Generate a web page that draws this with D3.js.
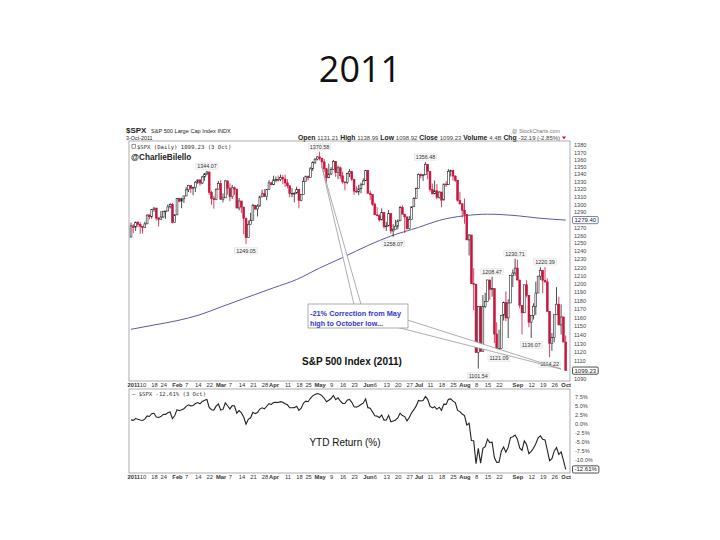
<!DOCTYPE html>
<html lang="en">
<head>
<meta charset="UTF-8">
<title>2011</title>
<script src="https://cdnjs.cloudflare.com/ajax/libs/d3/7.8.5/d3.min.js"></script>
<style>
    body { margin: 0; background: #fff; }
    svg text { font-family: "Liberation Sans", Arial, sans-serif; }
    .mono { font-family: "DejaVu Sans Mono", "Liberation Mono", monospace !important; }
</style>
</head>
<body>
<svg id="slide" width="720" height="540"></svg>
<script>
// trading days, 3 Jan - 3 Oct 2011
var dates = [
    "Jan 3","Jan 4","Jan 5","Jan 6","Jan 7","Jan 10","Jan 11","Jan 12","Jan 13","Jan 14","Jan 18","Jan 19","Jan 20","Jan 21","Jan 24","Jan 25","Jan 26","Jan 27","Jan 28","Jan 31",
    "Feb 1","Feb 2","Feb 3","Feb 4","Feb 7","Feb 8","Feb 9","Feb 10","Feb 11","Feb 14","Feb 15","Feb 16","Feb 17","Feb 18","Feb 22","Feb 23","Feb 24","Feb 25","Feb 28",
    "Mar 1","Mar 2","Mar 3","Mar 4","Mar 7","Mar 8","Mar 9","Mar 10","Mar 11","Mar 14","Mar 15","Mar 16","Mar 17","Mar 18","Mar 21","Mar 22","Mar 23","Mar 24","Mar 25","Mar 28","Mar 29","Mar 30","Mar 31",
    "Apr 1","Apr 4","Apr 5","Apr 6","Apr 7","Apr 8","Apr 11","Apr 12","Apr 13","Apr 14","Apr 15","Apr 18","Apr 19","Apr 20","Apr 21","Apr 25","Apr 26","Apr 27","Apr 28","Apr 29",
    "May 2","May 3","May 4","May 5","May 6","May 9","May 10","May 11","May 12","May 13","May 16","May 17","May 18","May 19","May 20","May 23","May 24","May 25","May 26","May 27","May 31",
    "Jun 1","Jun 2","Jun 3","Jun 6","Jun 7","Jun 8","Jun 9","Jun 10","Jun 13","Jun 14","Jun 15","Jun 16","Jun 17","Jun 20","Jun 21","Jun 22","Jun 23","Jun 24","Jun 27","Jun 28","Jun 29","Jun 30",
    "Jul 1","Jul 5","Jul 6","Jul 7","Jul 8","Jul 11","Jul 12","Jul 13","Jul 14","Jul 15","Jul 18","Jul 19","Jul 20","Jul 21","Jul 22","Jul 25","Jul 26","Jul 27","Jul 28","Jul 29",
    "Aug 1","Aug 2","Aug 3","Aug 4","Aug 5","Aug 8","Aug 9","Aug 10","Aug 11","Aug 12","Aug 15","Aug 16","Aug 17","Aug 18","Aug 19","Aug 22","Aug 23","Aug 24","Aug 25","Aug 26","Aug 29","Aug 30","Aug 31",
    "Sep 1","Sep 2","Sep 6","Sep 7","Sep 8","Sep 9","Sep 12","Sep 13","Sep 14","Sep 15","Sep 16","Sep 19","Sep 20","Sep 21","Sep 22","Sep 23","Sep 26","Sep 27","Sep 28","Sep 29","Sep 30",
    "Oct 3"
];

var closes = [
    1271.87,1270.20,1276.56,1273.85,1271.50,1269.75,1274.48,1285.96,1283.76,1293.24,1295.02,1281.92,1280.26,1283.35,1290.84,1291.18,1296.63,1299.54,1276.34,1286.12,
    1307.59,1304.03,1307.10,1310.87,1319.05,1324.57,1320.88,1321.87,1329.15,1332.32,1328.01,1336.32,1340.43,1343.01,1315.44,1307.40,1306.10,1319.88,1327.22,
    1306.33,1308.44,1330.97,1321.15,1310.13,1321.82,1320.02,1295.11,1304.28,1296.39,1281.87,1256.88,1273.72,1279.21,1298.38,1293.77,1297.54,1309.66,1313.80,1310.19,1319.44,1328.26,1325.83,
    1332.41,1332.87,1332.63,1335.54,1333.51,1328.17,1324.46,1314.16,1314.41,1314.52,1319.68,1305.14,1312.62,1330.36,1337.38,1335.25,1347.24,1355.66,1360.48,1363.61,
    1361.22,1356.62,1347.32,1335.10,1340.20,1346.29,1357.16,1342.08,1348.65,1337.77,1329.47,1328.98,1340.68,1343.60,1333.27,1317.37,1316.28,1320.47,1325.69,1331.10,1345.20,
    1314.55,1312.94,1300.16,1286.17,1284.94,1279.56,1289.00,1270.98,1271.83,1287.87,1265.42,1267.64,1271.50,1278.36,1295.52,1287.14,1283.50,1268.45,1280.10,1296.67,1307.41,1320.64,
    1339.67,1337.88,1339.22,1353.22,1343.80,1319.49,1313.64,1317.72,1308.87,1316.14,1305.44,1326.73,1325.84,1343.80,1345.02,1337.43,1331.94,1304.89,1300.67,1292.28,
    1286.94,1254.05,1260.34,1200.07,1199.38,1119.46,1172.53,1120.76,1172.64,1178.81,1204.49,1192.76,1193.89,1140.65,1123.53,1123.82,1162.35,1177.60,1159.27,1176.80,1210.08,1212.92,1218.89,
    1204.42,1173.97,1165.24,1198.62,1185.90,1154.23,1162.27,1172.87,1188.68,1209.11,1216.01,1204.09,1202.09,1166.76,1129.56,1136.43,1162.95,1175.38,1151.06,1160.40,1131.42,
    1099.23
];

var highs = [
    1276.17,1274.12,1277.63,1278.17,1276.83,1271.52,1277.25,1286.82,1286.70,1293.24,1296.06,1295.02,1283.32,1291.21,1291.26,1291.26,1299.74,1301.29,1301.55,1287.17,
    1308.05,1307.61,1308.60,1311.00,1322.85,1324.87,1324.57,1323.21,1330.79,1332.32,1330.58,1337.80,1341.50,1344.07,1338.91,1317.91,1310.91,1320.91,1330.94,
    1332.28,1314.39,1332.28,1331.08,1327.68,1325.74,1323.21,1320.02,1308.35,1304.28,1288.88,1280.91,1278.73,1288.88,1300.58,1299.18,1300.00,1311.34,1319.18,1319.74,1319.54,1331.74,1329.77,
    1337.85,1336.74,1338.21,1339.46,1338.80,1339.46,1333.16,1324.46,1321.35,1315.74,1323.15,1319.68,1312.62,1335.86,1337.49,1337.38,1349.55,1357.49,1361.71,1364.56,
    1370.58,1362.59,1360.84,1348.30,1354.36,1349.44,1359.44,1357.16,1351.64,1350.47,1343.33,1330.42,1341.94,1346.82,1343.60,1333.27,1323.84,1325.86,1328.51,1334.62,1345.20,
    1345.20,1318.03,1312.94,1302.22,1296.22,1287.04,1294.54,1289.00,1277.04,1292.50,1287.87,1274.11,1279.82,1280.42,1297.62,1298.61,1287.14,1283.93,1284.90,1296.81,1309.21,1321.97,
    1341.01,1340.89,1340.12,1356.48,1353.22,1343.80,1327.26,1331.48,1326.68,1317.06,1316.14,1327.16,1330.67,1347.00,1346.13,1345.02,1338.51,1331.94,1316.32,1300.67,
    1307.38,1286.94,1261.20,1260.34,1218.70,1199.38,1172.88,1172.53,1186.29,1189.04,1204.49,1204.49,1208.47,1193.89,1154.11,1145.49,1162.35,1178.47,1190.68,1181.23,1210.28,1217.28,1230.71,
    1229.29,1203.85,1173.97,1198.62,1204.23,1185.90,1162.27,1176.41,1202.38,1209.11,1220.06,1216.01,1220.39,1206.30,1166.76,1141.72,1162.95,1195.86,1184.30,1175.31,1160.40,
    1138.99
];

var lows = [
    1257.62,1262.66,1265.36,1270.43,1261.70,1262.18,1269.62,1274.48,1280.47,1281.24,1290.16,1278.92,1271.26,1282.07,1282.06,1281.07,1293.55,1294.41,1275.10,1276.34,
    1286.12,1302.62,1294.83,1301.67,1311.00,1316.03,1314.89,1311.94,1316.08,1326.90,1324.61,1326.56,1331.00,1338.12,1312.33,1299.55,1294.26,1305.26,1320.88,
    1306.33,1302.58,1308.44,1312.59,1303.99,1306.86,1312.27,1294.47,1291.99,1288.84,1261.12,1249.05,1256.88,1275.53,1279.21,1292.70,1284.05,1297.74,1309.66,1310.19,1305.26,1319.44,1325.03,
    1325.83,1329.10,1330.03,1330.67,1326.56,1322.94,1321.06,1309.15,1309.19,1302.59,1314.41,1294.70,1303.97,1312.62,1330.36,1331.47,1335.25,1344.25,1353.60,1358.69,
    1358.59,1348.84,1342.71,1329.17,1335.10,1338.64,1346.29,1336.36,1333.35,1333.36,1327.32,1318.51,1326.59,1336.12,1330.67,1312.47,1314.51,1311.80,1314.41,1325.69,1331.10,
    1313.71,1305.61,1297.90,1286.17,1284.74,1277.42,1279.56,1268.52,1265.64,1271.83,1261.90,1258.07,1267.40,1267.56,1278.36,1286.79,1262.87,1267.24,1267.53,1280.10,1296.67,1307.41,
    1320.64,1334.30,1330.92,1339.22,1333.20,1316.42,1313.33,1313.64,1306.51,1307.35,1295.92,1305.44,1322.75,1325.84,1336.84,1331.09,1329.59,1303.49,1299.16,1282.86,
    1274.73,1254.03,1234.56,1199.54,1168.09,1119.28,1101.54,1120.76,1121.46,1170.74,1178.81,1180.53,1184.36,1130.09,1122.05,1121.09,1123.82,1156.14,1155.47,1135.91,1179.86,1195.72,1209.35,
    1203.85,1170.56,1140.13,1165.24,1183.34,1148.37,1136.07,1157.44,1162.73,1188.68,1204.46,1188.30,1201.29,1166.76,1114.22,1121.36,1131.03,1163.11,1150.86,1139.93,1131.34,
    1098.92
];

var prevYearClose = 1257.64;
var lastReturnShown = -12.61;   // YTD figure printed by the chart

// 200-day moving average
var maDates  = ["Jan 3","Jan 18","Feb 1","Feb 15","Mar 1","Mar 15","Apr 1","Apr 15","May 2","May 16","Jun 1","Jun 15","Jul 1","Jul 15","Aug 1","Aug 15","Sep 1","Sep 15","Oct 3"];
var maValues = [1146,1151,1156,1163,1172,1182,1195,1205,1219,1232,1247,1259,1270,1279,1285,1287,1285,1282,1279.4];

// swing highs / lows labelled on the chart
var highLabels = [["Feb 18",1344.07],["May 2",1370.58],["Jul 7",1356.48],["Aug 17",1208.47],["Aug 31",1230.71],["Sep 20",1220.39]];
var lowLabels  = [["Mar 16",1249.05],["Jun 16",1258.07],["Aug 9",1101.54],["Aug 22",1121.09],["Sep 12",1136.07],["Sep 22",1114.22]];

var tickDates  = ["Jan 3","Jan 10","Jan 18","Jan 24","Feb 1","Feb 7","Feb 14","Feb 22","Mar 1","Mar 7","Mar 14","Mar 21","Mar 28","Apr 1","Apr 11","Apr 18","Apr 25","May 2","May 9","May 16","May 23","Jun 1","Jun 6","Jun 13","Jun 20","Jun 27","Jul 1","Jul 11","Jul 18","Jul 25","Aug 1","Aug 8","Aug 15","Aug 22","Sep 1","Sep 12","Sep 19","Sep 26","Oct 3"];
var tickLabels = ["2011","10","18","24","Feb","7","14","22","Mar","7","14","21","28","Apr","11","18","25","May","9","16","23","Jun","6","13","20","27","Jul","11","18","25","Aug","8","15","22","Sep","12","19","26","Oct"];

var priceTicks  = d3.range(1090, 1381, 10);
var returnTicks = [7.5, 5, 2.5, 0, -2.5, -5, -7.5, -10];

var svg = d3.select('#slide');

// slide title
svg.append('text')
    .attr('x', 360).attr('y', 82)
    .attr('text-anchor', 'middle')
    .style('font-family', '"Open Sans", sans-serif')
    .style('font-size', '36px')
    .attr('fill', '#111')
    .text('2011');

// layout of the stock chart
var left = 129, right = 570;
var mainTop = 141, mainBottom = 381;
var lowTop = 389, lowBottom = 473;
var red = '#c8143c', ink = '#222', maColor = '#5b5ba3';

var x = d3.scalePoint().domain(dates).range([131, 565.7]);
var y = d3.scaleLog().domain([1090, 1380]).range([379, 145]);
var yR = d3.scaleLinear().domain([-13.6, 9.7]).range([lowBottom, lowTop]);

var bars = dates.map(function (d, i) {
    var o = i ? closes[i - 1] : prevYearClose;
    var c = closes[i];
    return {
        date: d, open: o, close: c,
        high: Math.max(highs[i], o, c),
        low: Math.min(lows[i], o, c)
    };
});
var ret = closes.map(function (c) { return (c / prevYearClose - 1) * 100; });
var lastMA = maValues[maValues.length - 1];
var lastClose = closes[closes.length - 1];

// header
var head = svg.append('g').attr('fill', '#222');
head.append('text').attr('x', 126).attr('y', 133)
    .style('font-size', '8px').style('font-weight', 'bold').text('$SPX');
head.append('text').attr('x', 151).attr('y', 133)
    .style('font-size', '5.6px').text('S&P 500 Large Cap Index  INDX');
head.append('text').attr('x', 560).attr('y', 133).attr('text-anchor', 'end')
    .attr('fill', '#777').style('font-size', '5.4px').text('@ StockCharts.com');
head.append('text').attr('x', 126).attr('y', 140)
    .style('font-size', '5.4px').text('3-Oct-2011');

var quote = [["Open", "1131.21"], ["High", "1138.99"], ["Low", "1098.92"], ["Close", "1099.23"], ["Volume", "4.4B"], ["Chg", "-32.19 (-2.85%)"]];
var qt = head.append('text').attr('x', 298).attr('y', 140)
    .attr('textLength', 262).attr('lengthAdjust', 'spacingAndGlyphs');
quote.forEach(function (q, i) {
    qt.append('tspan').style('font-weight', 'bold').style('font-size', '6.4px').text((i ? '  ' : '') + q[0] + ' ');
    qt.append('tspan').style('font-size', '5.6px').attr('fill', '#444').text(q[1]);
});
head.append('path').attr('d', 'M562,136.5 L566,136.5 L564,139.5 Z').attr('fill', red);

// panel frames
svg.append('rect').attr('x', left).attr('y', mainTop)
    .attr('width', right - left).attr('height', mainBottom - mainTop)
    .attr('fill', 'none').attr('stroke', '#999').attr('stroke-width', 0.8);
svg.append('rect').attr('x', left).attr('y', lowTop)
    .attr('width', right - left).attr('height', lowBottom - lowTop)
    .attr('fill', 'none').attr('stroke', '#999').attr('stroke-width', 0.8);

svg.append('clipPath').attr('id', 'mainClip').append('rect')
    .attr('x', left).attr('y', mainTop).attr('width', right - left).attr('height', mainBottom - mainTop);

var plot = svg.append('g').attr('clip-path', 'url(#mainClip)');

// 200 day MA
var maLine = d3.line()
    .x(function (d, i) { return x(maDates[i]); })
    .y(function (d) { return y(d); })
    .curve(d3.curveMonotoneX);
plot.append('path').datum(maValues)
    .attr('d', maLine)
    .attr('fill', 'none').attr('stroke', maColor).attr('stroke-width', 1);

// candles
var candle = plot.append('g').selectAll('g').data(bars).enter().append('g');
candle.append('line')
    .attr('x1', function (d) { return x(d.date); })
    .attr('x2', function (d) { return x(d.date); })
    .attr('y1', function (d) { return y(d.high); })
    .attr('y2', function (d) { return y(d.low); })
    .attr('stroke', function (d) { return d.close >= d.open ? ink : red; })
    .attr('stroke-width', 0.8);
candle.append('rect')
    .attr('x', function (d) { return x(d.date) - 0.9; })
    .attr('width', 1.8)
    .attr('y', function (d) { return y(Math.max(d.open, d.close)); })
    .attr('height', function (d) { return Math.max(0.8, Math.abs(y(d.open) - y(d.close))); })
    .attr('fill', function (d) { return d.close >= d.open ? '#fff' : red; })
    .attr('stroke', function (d) { return d.close >= d.open ? ink : red; })
    .attr('stroke-width', 0.6);

// swing labels
function priceTag(g, d, above) {
    var cx = x(d[0]);
    var cy = above ? y(d[1]) - 5 : y(d[1]) + 7;
    var t = g.append('text').attr('x', cx).attr('y', cy + 2)
        .attr('text-anchor', 'middle').style('font-size', '5.4px').attr('fill', '#333')
        .text(d[1].toFixed(2));
    var w = t.node().getComputedTextLength();
    g.insert('rect', 'text')
        .attr('x', cx - w / 2 - 1.5).attr('y', cy - 3.2)
        .attr('width', w + 3).attr('height', 6.4)
        .attr('fill', '#f6f6f6').attr('stroke', '#d8d8d8').attr('stroke-width', 0.4);
}
highLabels.forEach(function (d) { priceTag(svg.append('g'), d, true); });
lowLabels.forEach(function (d) { priceTag(svg.append('g'), d, false); });

// legend inside main panel
svg.append('text').attr('x', 137).attr('y', 148.5).attr('class', 'mono')
    .style('font-size', '5.6px').attr('fill', '#333').text('$SPX (Daily) 1099.23 (3 Oct)');
svg.append('rect').attr('x', 132).attr('y', 144.2).attr('width', 3.5).attr('height', 4)
    .attr('fill', '#fff').attr('stroke', '#333').attr('stroke-width', 0.5);
svg.append('text').attr('x', 131).attr('y', 159.5)
    .style('font-size', '8.2px').style('font-weight', 'bold').attr('fill', '#222')
    .text('@CharlieBilello');

svg.append('text').attr('x', 302).attr('y', 365)
    .style('font-size', '10px').style('font-weight', 'bold').attr('fill', '#111')
    .text('S&P 500 Index (2011)');

// callout
var callout = svg.append('g');
callout.append('path')
    .attr('d', d3.line()([[x('May 3'), y(1350)], [354, 304.5], [361, 304.5]]) + 'Z')
    .attr('fill', '#fff').attr('stroke', '#999').attr('stroke-width', 0.8);
callout.append('path')
    .attr('d', d3.line()([[x('Sep 29'), y(1101)], [398, 327.5], [407.5, 320]]) + 'Z')
    .attr('fill', '#fff').attr('stroke', '#999').attr('stroke-width', 0.8);
callout.append('rect').attr('x', 308).attr('y', 304).attr('width', 100).attr('height', 24)
    .attr('fill', '#fff').attr('stroke', '#999').attr('stroke-width', 0.8);
callout.append('text').attr('x', 310).attr('y', 316)
    .attr('textLength', 91).attr('lengthAdjust', 'spacingAndGlyphs')
    .style('font-size', '7px').style('font-weight', 'bold').attr('fill', '#3535d0')
    .text('-21% Correction from May');
callout.append('text').attr('x', 310).attr('y', 326)
    .attr('textLength', 73).attr('lengthAdjust', 'spacingAndGlyphs')
    .style('font-size', '7px').style('font-weight', 'bold').attr('fill', '#3535d0')
    .text('high to October low...');

// right price axis (labels hidden where a value box sits)
var boxed = [y(lastMA), y(lastClose)];
var pAxis = svg.append('g').attr('transform', 'translate(572,0)')
    .call(d3.axisRight(y)
        .tickValues(priceTicks.filter(function (v) {
            return boxed.every(function (b) { return Math.abs(y(v) - b) > 5; });
        }))
        .tickSize(0).tickPadding(2).tickFormat(d3.format('d')));
pAxis.select('.domain').remove();
pAxis.selectAll('text').style('font-size', '5.6px').attr('fill', '#444')
    .style('font-family', '"Liberation Sans", Arial, sans-serif');

function valueBox(yPos, label, border) {
    var g = svg.append('g');
    var t = g.append('text').attr('x', 574.5).attr('y', yPos + 2)
        .style('font-size', '6px').attr('fill', '#222').text(label);
    var w = t.node().getComputedTextLength();
    g.insert('rect', 'text')
        .attr('x', 572.5).attr('y', yPos - 3.6).attr('width', w + 4).attr('height', 7.2)
        .attr('rx', 1.2).attr('fill', '#fff').attr('stroke', border).attr('stroke-width', 0.8);
}
valueBox(y(lastMA), lastMA.toFixed(2), maColor);
valueBox(y(lastClose), lastClose.toFixed(2), '#222');

// date axes
function dateAxis(yPos) {
    var g = svg.append('g').attr('transform', 'translate(0,' + yPos + ')')
        .call(d3.axisBottom(x).tickValues(tickDates).tickSize(0).tickPadding(2)
            .tickFormat(function (d, i) { return tickLabels[i]; }));
    g.select('.domain').remove();
    g.selectAll('text')
        .style('font-size', '5.8px')
        .style('font-family', '"Liberation Sans", Arial, sans-serif')
        .attr('fill', '#333')
        .style('font-weight', function (d, i) { return (i === 0 || isNaN(+tickLabels[i])) ? 'bold' : 'normal'; })
        .attr('text-anchor', function (d, i) { return i === 0 ? 'start' : 'middle'; })
        .attr('dx', function (d, i) { return i === 0 ? -4 : 0; });
}
dateAxis(mainBottom);
dateAxis(lowBottom);

// lower panel: YTD return
svg.append('path').datum(ret)
    .attr('d', d3.line()
        .x(function (d, i) { return x(dates[i]); })
        .y(function (d) { return yR(d); }))
    .attr('fill', 'none').attr('stroke', '#222').attr('stroke-width', 1.1);

var rAxis = svg.append('g').attr('transform', 'translate(572,0)')
    .call(d3.axisRight(yR)
        .tickValues(returnTicks.filter(function (v) { return Math.abs(yR(v) - yR(lastReturnShown)) > 5; }))
        .tickSize(0).tickPadding(3)
        .tickFormat(function (d) { return d.toFixed(1) + '%'; }));
rAxis.select('.domain').remove();
rAxis.selectAll('text').style('font-size', '5.6px').attr('fill', '#444')
    .style('font-family', '"Liberation Sans", Arial, sans-serif');
valueBox(yR(lastReturnShown), lastReturnShown.toFixed(2) + '%', '#222');

svg.append('text').attr('x', 132).attr('y', 396).attr('class', 'mono')
    .style('font-size', '5.6px').attr('fill', '#333').text('\u2014 $SPX -12.61% (3 Oct)');

svg.append('text').attr('x', 345).attr('y', 446).attr('text-anchor', 'middle')
    .style('font-size', '10px').attr('fill', '#111').text('YTD Return (%)');
</script>
</body>
</html>
